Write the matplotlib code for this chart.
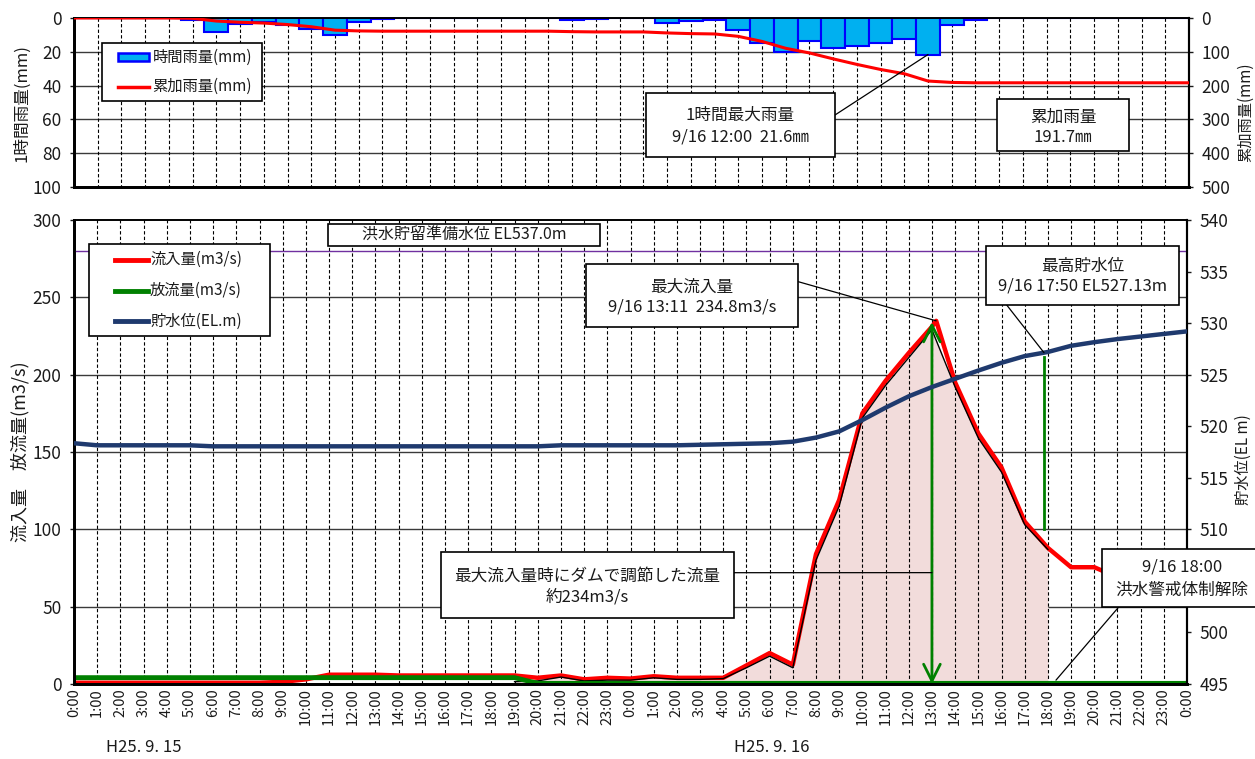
import matplotlib
matplotlib.use("Agg")
import matplotlib.pyplot as plt
from matplotlib.patches import Rectangle, ConnectionPatch, FancyArrowPatch
from matplotlib.lines import Line2D

plt.rcParams["font.family"] = ["Noto Sans CJK JP", "DejaVu Sans"]

# ---------------- data ----------------
# x-axis labels: 9/15 0:00 ... 9/16 23:00, 9/17 0:00
x_labels = ["0:00", "1:00", "2:00", "3:00", "4:00", "5:00", "6:00", "7:00",
            "8:00", "9:00", "10:00", "11:00", "12:00", "13:00", "14:00", "15:00",
            "16:00", "17:00", "18:00", "19:00", "20:00", "21:00", "22:00", "23:00"] * 2 + ["0:00"]
date_labels = ["H25. 9. 15", "H25. 9. 16"]

# hourly rainfall (mm), categories 9/15 0:00 ... 9/16 23:00
rain_index = list(range(48))
rain_hourly = [0, 0, 0, 0, 0, 1.0, 8.0, 3.6, 2.4, 4.4, 6.4, 10.2, 2.2, 0.8, 0, 0,
               0, 0, 0, 0, 0, 1.4, 0.8, 0, 0, 3.0, 2.0, 1.0, 7.1, 15.0, 20.3, 13.8,
               17.5, 16.4, 15.0, 12.6, 21.6, 4.1, 1.1, 0, 0, 0, 0, 0, 0, 0, 0, 0]
# cumulative rainfall (mm)
rain_cumulative = [0, 0, 0, 0, 0, 1.0, 9.0, 12.6, 15.0, 19.4, 25.8, 36.0, 38.2, 39.0, 39.0, 39.0,
                   39.0, 39.0, 39.0, 39.0, 39.0, 40.4, 41.2, 41.2, 41.2, 44.2, 46.2, 47.2, 54.3, 69.3,
                   89.6, 103.4, 120.9, 137.3, 152.3, 164.9, 186.5, 190.6, 191.7, 191.7, 191.7, 191.7,
                   191.7, 191.7, 191.7, 191.7, 191.7, 191.7]

# inflow (m3/s); hours from 9/15 0:00, incl. the 9/16 13:11 peak
inflow_hours = list(range(0, 38)) + [37 + 11 / 60] + list(range(38, 49))
inflow = [0.8, 0.8, 0.8, 0.8, 0.8, 0.8, 0.8, 0.8, 0.8, 1.4, 3.0, 6.0, 6.0, 6.0, 5.5, 5.5,
          5.5, 5.5, 5.5, 5.5, 4.0, 5.5, 3.0, 4.0, 3.5, 5.0, 4.0, 4.0, 4.0, 12.0, 20.0, 12.5,
          84.0, 119.0, 175.0, 196.0, 214.0, 231.0, 234.8, 195.0, 162.0, 140.0, 105.0, 88.0,
          75.5, 75.5, 69.0, 64.0, 60.0, 56.0]

# outflow (m3/s)
outflow_hours = list(range(49))
outflow = [4.1, 4.1, 4.1, 4.1, 4.1, 4.1, 4.1, 4.1, 4.1, 4.1, 4.1, 4.1, 4.1, 4.1, 4.1, 4.1,
           4.1, 4.1, 4.1, 4.1, 0.4, 0.4, 0.4, 0.4, 0.4, 0.4, 0.4, 0.4, 0.4, 0.4, 0.4, 0.4,
           0.4, 0.4, 0.4, 0.4, 0.4, 0.4, 0.4, 0.4, 0.4, 0.4, 0.4, 0.4, 0.4, 0.4, 0.4, 0.4, 0.4]

# flow regulated by the dam until the alert was lifted (m3/s)
regulated_hours = list(range(19, 43))
regulated = [1.5, 2.0, 4.5, 2.0, 2.5, 2.5, 4.0, 3.0, 3.0, 3.5, 10.5, 18.0, 10.5, 80.0, 115.0,
             172.0, 193.0, 211.0, 229.0, 192.0, 159.0, 137.0, 103.0, 87.0]

# reservoir water level (EL.m)
level_hours = list(range(49))
level = [518.35, 518.15, 518.15, 518.15, 518.15, 518.15, 518.05, 518.05, 518.05, 518.05,
         518.05, 518.05, 518.05, 518.05, 518.05, 518.05, 518.05, 518.05, 518.05, 518.05,
         518.05, 518.15, 518.15, 518.15, 518.15, 518.15, 518.15, 518.2, 518.25, 518.3,
         518.35, 518.5, 518.9, 519.5, 520.6, 521.8, 522.9, 523.8, 524.6, 525.4, 526.15,
         526.8, 527.2, 527.8, 528.15, 528.45, 528.7, 528.95, 529.2]

standby_level = 537.0
peak_inflow_time, peak_inflow = 37 + 11 / 60, 234.8
regulated_at_peak = 234
max_level_time, max_level = 41 + 50 / 60, 527.13
max_rain_index, max_rain = 36, 21.6
lift_time = 42

# ---------------- layout ----------------
W, H = 1255, 759
fig = plt.figure(figsize=(W / 100, H / 100), dpi=100)


def fx(x):
    return x / W


def fy(y):
    return 1 - y / H


TXT = "#1a1a1a"
GRID_H = dict(color="#3a3a3a", lw=1.0)
DASH = dict(color="black", lw=0.8, linestyles=(0, (3, 2)))
RED, GREEN, NAVY = "#FF0000", "#008000", "#1F3A6E"


def style_spines(ax):
    for side, lw in (("left", 2.0), ("bottom", 2.0), ("right", 1.5), ("top", 1.2)):
        ax.spines[side].set_linewidth(lw)
        ax.spines[side].set_color("black")


# ---------- rainfall panel ----------
ax_r = fig.add_axes([fx(74), fy(187), fx(1189) - fx(74), fy(18) - fy(187)])
ax_r.bar(rain_index, rain_hourly, width=1.0, color="#00B0F0", edgecolor="#0000FF",
         linewidth=1.5, zorder=2)
ax_r.set_xlim(0, 47)
ax_r.set_ylim(100, 0)
ax_r.set_yticks(range(0, 101, 20))
ax_r.set_xticks([])
for v in range(20, 100, 20):
    ax_r.axhline(v, zorder=0.5, **GRID_H)
ax_r.vlines(range(1, 47), 0, 100, zorder=1.5, **DASH)
ax_r.tick_params(axis="y", direction="out", length=3, width=1, labelsize=12.5,
                 pad=6, colors=TXT)
style_spines(ax_r)

ax_r2 = ax_r.twinx()
ax_r2.plot(rain_index, rain_cumulative, color=RED, lw=2.2, zorder=3)
ax_r2.set_ylim(500, 0)
ax_r2.set_yticks(range(0, 501, 100))
ax_r2.tick_params(axis="y", direction="out", length=3, width=1, labelsize=12.5,
                  pad=6, colors=TXT)
style_spines(ax_r2)

# ---------- flow / water level panel ----------
ax_q = fig.add_axes([fx(74), fy(684), fx(1187) - fx(74), fy(220) - fy(684)])
ax_q.fill_between(regulated_hours, 0, regulated, color="#F2DCDB", lw=0, zorder=1)
ax_q.plot(inflow_hours, inflow, color=RED, lw=3.2, zorder=2.3, solid_joinstyle="round")
ax_q.plot(regulated_hours, regulated, color="black", lw=1.0, zorder=2.4)
ax_q.plot(outflow_hours, outflow, color=GREEN, lw=3.5, zorder=2.5)
ax_q.set_xlim(0, 48)
ax_q.set_ylim(0, 300)
ax_q.set_yticks(range(0, 301, 50))
ax_q.set_xticks(range(49))
ax_q.set_xticklabels(x_labels)
for v in range(50, 300, 50):
    ax_q.axhline(v, zorder=0.5, **GRID_H)
ax_q.vlines(range(1, 48), 0, 300, zorder=1.5, **DASH)
ax_q.tick_params(axis="y", direction="out", length=3, width=1, labelsize=12.5,
                 pad=6, colors=TXT)
ax_q.tick_params(axis="x", length=0, pad=3, labelsize=10.5, labelrotation=90, colors=TXT)
style_spines(ax_q)

arrow = FancyArrowPatch((37, 0), (37, regulated_at_peak),
                        arrowstyle="<->,head_length=0.6,head_width=0.3",
                        mutation_scale=20, color=GREEN, lw=2, shrinkA=0, shrinkB=0,
                        zorder=2.6)
ax_q.add_patch(arrow)

ax_l = ax_q.twinx()
ax_l.axhline(standby_level, color="#7030A0", lw=1.0, zorder=1)
ax_l.plot(level_hours, level, color=NAVY, lw=3.2, zorder=3)
ax_l.plot([max_level_time, max_level_time], [510, max_level - 0.4], color=GREEN, lw=2,
          zorder=2)
ax_l.set_ylim(495, 540)
level_ticks = list(range(495, 541, 5))
ax_l.set_yticks(level_ticks)
# the 505 label sits under the alert call-out box
ax_l.set_yticklabels(["" if t == 505 else str(t) for t in level_ticks])
ax_l.tick_params(axis="y", direction="out", length=3, width=1, labelsize=12.5,
                 pad=6, colors=TXT)
style_spines(ax_l)

# ---------- axis titles and dates ----------
fig.text(fx(22), fy(103), "1時間雨量(mm)", rotation=90, ha="center", va="center",
         fontsize=12, color=TXT)
fig.text(fx(1246), fy(112), "累加雨量(mm)", rotation=90, ha="center", va="center",
         fontsize=11, color=TXT)
fig.text(fx(20), fy(452), "流入量　放流量(m3/s)", rotation=90, ha="center", va="center",
         fontsize=13, color=TXT)
fig.text(fx(1243), fy(460), "貯水位(EL m)", rotation=90, ha="center", va="center",
         fontsize=11, color=TXT)
fig.text(fx(106), fy(748), date_labels[0], ha="left", va="center", fontsize=12, color=TXT)
fig.text(fx(734), fy(748), date_labels[1], ha="left", va="center", fontsize=12, color=TXT)


# ---------- boxes, legends and call-outs ----------
def box(x0, y0, x1, y1, lines=(), fs=12, lw=1.2):
    fig.add_artist(Rectangle((fx(x0), fy(y1)), fx(x1) - fx(x0), fy(y0) - fy(y1),
                             transform=fig.transFigure, facecolor="white",
                             edgecolor="black", lw=lw, zorder=10))
    for text, y in lines:
        fig.text(fx((x0 + x1) / 2), fy(y), text, ha="center", va="center",
                 fontsize=fs, color=TXT, zorder=11)


def callout(x, y, xy, ax):
    con = ConnectionPatch(xyA=(fx(x), fy(y)), coordsA="figure fraction",
                          xyB=xy, coordsB=ax.transData, color="black", lw=0.9,
                          zorder=9)
    fig.add_artist(con)


# rainfall legend
box(101.7, 42.7, 261.7, 101)
fig.add_artist(Rectangle((fx(117.7), fy(61)), fx(149) - fx(117.7), fy(53.3) - fy(61),
                         transform=fig.transFigure, facecolor="#00B0F0",
                         edgecolor="#0000FF", lw=1.8, zorder=11))
fig.text(fx(152.5), fy(57.5), "時間雨量(mm)", ha="left", va="center", fontsize=11,
         color=TXT, zorder=11)
fig.add_artist(Line2D([fx(117.7), fx(149)], [fy(86.5), fy(86.5)], color=RED, lw=2.5,
                      zorder=11))
fig.text(fx(152.5), fy(86.5), "累加雨量(mm)", ha="left", va="center", fontsize=11,
         color=TXT, zorder=11)

# flow legend
box(89.3, 244.3, 270, 336)
for (label, color, y) in (("流入量(m3/s)", RED, 259.5), ("放流量(m3/s)", GREEN, 290.5),
                          ("貯水位(EL.m)", NAVY, 321.5)):
    fig.add_artist(Line2D([fx(115), fx(147.5)], [fy(y), fy(y)], color=color, lw=3.5,
                          zorder=11))
    fig.text(fx(150), fy(y), label, ha="left", va="center", fontsize=11, color=TXT,
             zorder=11)

# rainfall call-outs
callout(835, 115, (max_rain_index, max_rain), ax_r)
box(646, 92.7, 835, 156.7, [("1時間最大雨量", 115), ("9/16 12:00  21.6㎜", 137)])
box(997, 99.3, 1129, 150.7, [("累加雨量", 117), ("191.7㎜", 137)])

# flow call-outs
box(328, 224, 600, 246, [("洪水貯留準備水位 EL537.0m", 235)], fs=11.5)
callout(798.3, 281.7, (peak_inflow_time, peak_inflow), ax_q)
box(585.7, 264.3, 798.3, 326.7, [("最大流入量", 287), ("9/16 13:11  234.8m3/s", 307.5)])
callout(1006.7, 305, (max_level_time, max_level), ax_l)
box(985.7, 245.7, 1179.3, 305, [("最高貯水位", 266), ("9/16 17:50 EL527.13m", 286)])
callout(733.6, 572.7, (37, 72), ax_q)
box(441, 551.7, 733.6, 618.3, [("最大流入量時にダムで調節した流量", 576), ("約234m3/s", 597)])
callout(1118.5, 607.3, (lift_time + 0.35, 2.5), ax_q)
box(1101.5, 549, 1262, 607.3, [("9/16 18:00", 567), ("洪水警戒体制解除", 590)])

fig.savefig("out.png", dpi=100)
